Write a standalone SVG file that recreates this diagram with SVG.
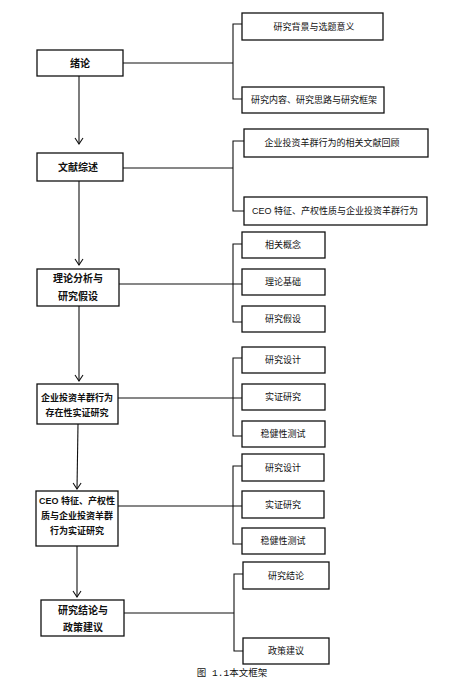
<svg xmlns="http://www.w3.org/2000/svg" width="459" height="690" viewBox="0 0 459 690">
<defs>
<style>
.box{fill:#fff;stroke:#111;stroke-width:1.3}
.ln{fill:none;stroke:#111;stroke-width:1.1}
.m{font-family:"Liberation Sans","Noto Sans CJK SC",sans-serif;font-size:10px;font-weight:bold;fill:#111;text-anchor:middle}
.s{font-size:9px}
.c{font-family:"Liberation Sans","Noto Sans CJK SC",sans-serif;font-size:9px;fill:#111;text-anchor:middle}
.cap{font-family:"Liberation Mono","Noto Sans CJK SC",monospace;font-size:9.5px;fill:#111;text-anchor:middle}
</style>
<marker id="arr" markerWidth="10" markerHeight="10" refX="8" refY="5" orient="auto" markerUnits="userSpaceOnUse" viewBox="0 0 10 10">
<polyline points="2,1 8,5 2,9" fill="none" stroke="#111" stroke-width="1.1"/>
</marker>
</defs>
<rect width="459" height="690" fill="#fff"/>
<g id="connectors">
<line class="ln" x1="79" y1="76" x2="79" y2="144" marker-end="url(#arr)"/>
<line class="ln" x1="79" y1="181" x2="79" y2="265" marker-end="url(#arr)"/>
<line class="ln" x1="79" y1="306" x2="79" y2="381" marker-end="url(#arr)"/>
<line class="ln" x1="78" y1="424" x2="77" y2="489" marker-end="url(#arr)"/>
<line class="ln" x1="77" y1="546" x2="77" y2="597" marker-end="url(#arr)"/>
<path class="ln" d="M123 63H233M242 24H233V99H242"/>
<path class="ln" d="M123 168H233M244 141H233V211H244"/>
<path class="ln" d="M119 284H242M242 244H233V322H242"/>
<path class="ln" d="M118 398H242M242 358H233V436H242"/>
<path class="ln" d="M118 506H242M242 466H233V544H242"/>
<path class="ln" d="M124 613H234M243 574H234V651H243"/>
</g>
<g id="n1"><rect class="box" x="37" y="50" width="86" height="26"/><text class="m" x="80" y="67" font-size="11">绪论</text></g>
<g id="n1a"><rect class="box" x="242" y="13" width="141" height="27"/><text class="c" x="314" y="30">研究背景与选题意义</text></g>
<g id="n1b"><rect class="box" x="242" y="87" width="142" height="26"/><text class="c" x="314" y="103">研究内容、研究思路与研究框架</text></g>
<g id="n2"><rect class="box" x="37" y="153" width="86" height="28"/><text class="m" x="78" y="171">文献综述</text></g>
<g id="n2a"><rect class="box" x="244" y="129" width="184" height="28"/><text class="c" x="332" y="146">企业投资羊群行为的相关文献回顾</text></g>
<g id="n2b"><rect class="box" x="244" y="197" width="183" height="28"/><text class="c" x="335" y="214">CEO 特征、产权性质与企业投资羊群行为</text></g>
<g id="n3"><rect class="box" x="37" y="269" width="82" height="37"/><text class="m" x="78" y="282">理论分析与</text><text class="m" x="78" y="300">研究假设</text></g>
<g id="n3a"><rect class="box" x="242" y="232" width="83" height="26"/><text class="c" x="283" y="248">相关概念</text></g>
<g id="n3b"><rect class="box" x="242" y="269" width="83" height="26"/><text class="c" x="283" y="285">理论基础</text></g>
<g id="n3c"><rect class="box" x="242" y="306" width="83" height="26"/><text class="c" x="283" y="322">研究假设</text></g>
<g id="n4"><rect class="box" x="37" y="384" width="81" height="40"/><text class="m s" x="77" y="401">企业投资羊群行为</text><text class="m s" x="77" y="416">存在性实证研究</text></g>
<g id="n4a"><rect class="box" x="242" y="347" width="83" height="26"/><text class="c" x="283" y="363">研究设计</text></g>
<g id="n4b"><rect class="box" x="242" y="384" width="83" height="26"/><text class="c" x="283" y="400">实证研究</text></g>
<g id="n4c"><rect class="box" x="242" y="421" width="83" height="26"/><text class="c" x="283" y="437">稳健性测试</text></g>
<g id="n5"><rect class="box" x="36" y="491" width="82" height="55"/><text class="m s" x="77" y="504">CEO 特征、产权性</text><text class="m s" x="77" y="519">质与企业投资羊群</text><text class="m s" x="77" y="534">行为实证研究</text></g>
<g id="n5a"><rect class="box" x="242" y="454" width="82" height="27"/><text class="c" x="283" y="471">研究设计</text></g>
<g id="n5b"><rect class="box" x="242" y="491" width="82" height="27"/><text class="c" x="283" y="508">实证研究</text></g>
<g id="n5c"><rect class="box" x="242" y="528" width="83" height="26"/><text class="c" x="283" y="544">稳健性测试</text></g>
<g id="n6"><rect class="box" x="41" y="600" width="83" height="36"/><text class="m" x="83" y="614">研究结论与</text><text class="m" x="83" y="631">政策建议</text></g>
<g id="n6a"><rect class="box" x="243" y="562" width="86" height="27"/><text class="c" x="286" y="579">研究结论</text></g>
<g id="n6b"><rect class="box" x="243" y="638" width="86" height="26"/><text class="c" x="286" y="654">政策建议</text></g>
<text class="cap" x="232" y="676">图 1.1本文框架</text>
</svg>
